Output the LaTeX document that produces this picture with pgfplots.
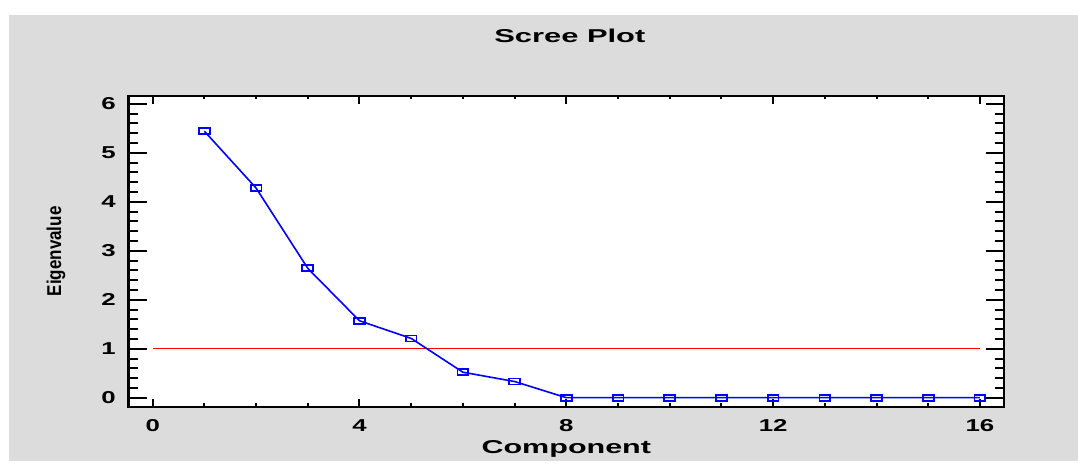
\documentclass[border=0pt]{standalone}
\usepackage{graphicx}
\usepackage{pgfplots}
\pgfplotsset{compat=1.18}
\usepackage{fontspec}
\setmainfont{Liberation Sans}
\definecolor{bggray}{RGB}{220,220,220}
\begin{document}
\begin{tikzpicture}
% page and panel background
\fill[white] (0,0) rectangle (539pt,230.5pt);
\fill[bggray] (4.5pt,0) rectangle (539pt,223pt);
\pgfplotsset{
  screebase/.style={
    scale only axis, width=437.6pt, height=155.3pt,
    at={(64.35pt,27.15pt)}, anchor=south west,
    xmin=-0.464, xmax=16.464, ymin=-0.184, ymax=6.157,
    tick align=inside,
    axis line style={line width=1.2pt},
    every tick/.style={black, line width=1pt},
    /pgf/number format/assume math mode=true,
  }}
% frame with the eigenvalue ticks on both sides
\begin{axis}[screebase,
  axis background/.style={fill=white},
  xtick=\empty,
  ytick={0,1,...,6}, minor y tick num=4,
  major tick length=9pt, minor tick length=4.5pt,
  yticklabel={\scalebox{1.5}[1]{\pgfmathprintnumber{\tick}}},
  yticklabel style={font=\bfseries\fontsize{8.6}{10}\selectfont, xshift=-3pt},
  ylabel={\scalebox{0.85}[1]{Eigenvalue}},
  ylabel style={at={(axis description cs:-0.0832,0.5)}, anchor=center,
    font=\bfseries\fontsize{10}{12}\selectfont},
]
\end{axis}
% component axis with the data
\begin{axis}[screebase,
  ytick=\empty,
  xtick={0,4,...,16}, minor x tick num=3,
  major tick length=3.8pt, minor tick length=1.7pt,
  xticklabel={\scalebox{1.5}[1]{\pgfmathprintnumber{\tick}}},
  xticklabel style={font=\bfseries\fontsize{8.6}{10}\selectfont, yshift=-3pt},
  xlabel={\scalebox{1.64}[1]{Component}},
  xlabel style={at={(axis description cs:0.5,0)}, anchor=base, yshift=-23.3pt,
    font=\bfseries\fontsize{9.3}{11}\selectfont},
  title={\scalebox{1.66}[1]{Scree Plot}},
  every axis title/.style={at={(axis description cs:0.5,1)}, anchor=base,
    yshift=26.65pt, xshift=1.8pt, font=\bfseries\fontsize{9.3}{11}\selectfont},
]
\addplot[red, line width=0.7pt] coordinates {(0,1) (16,1)};
\addplot[blue, line width=0.8pt, mark=square, mark size=1.5pt,
  mark options={xscale=1.8, line width=0.9pt, solid}] coordinates {
  (1,5.44) (2,4.28) (3,2.64) (4,1.57) (5,1.21) (6,0.52) (7,0.33) (8,0)
  (9,0) (10,0) (11,0) (12,0) (13,0) (14,0) (15,0) (16,0)
};
\end{axis}
\end{tikzpicture}
\end{document}
